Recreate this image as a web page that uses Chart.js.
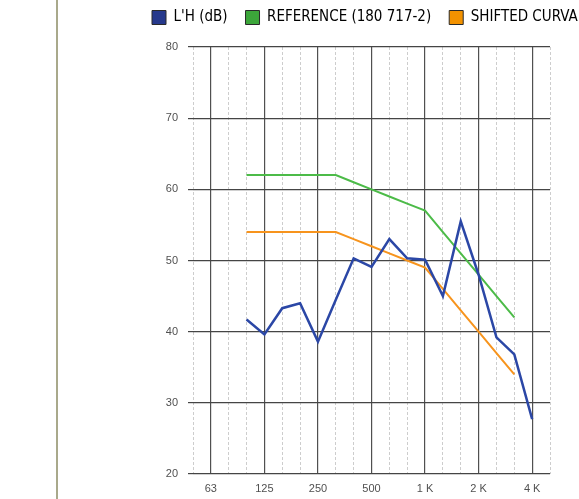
<!DOCTYPE html>
<html>
<head>
<meta charset="utf-8">
<script src="https://cdn.jsdelivr.net/npm/chart.js@4.4.1/dist/chart.umd.min.js"></script>
<style>
  body { margin: 0; background: #fff; }
  #wrap { position: relative; width: 579px; height: 499px; }
  #chart { position: absolute; left: 0; top: 0; }
  #rule { position: absolute; left: 56px; top: 0; width: 2px; height: 499px; background: #a9a98b; }
</style>
</head>
<body>
<div id="wrap">
  <canvas id="chart" width="579" height="499"></canvas>
  <div id="rule"></div>
</div>
<script>
"use strict";

// third-octave bands, 50 Hz .. 5 kHz (x axis runs on the band index)
const bands = ['50', '63', '80', '100', '125', '160', '200', '250', '315', '400', '500',
  '630', '800', '1000', '1250', '1600', '2000', '2500', '3150', '4000', '5000'];
const octaveBands = ['63', '125', '250', '500', '1000', '2000', '4000'];
const octaveLabels = ['63', '125', '250', '500', '1 K', '2 K', '4 K'];

const measuredBands = ['100', '125', '160', '200', '250', '315', '400', '500', '630',
  '800', '1000', '1250', '1600', '2000', '2500', '3150', '4000'];
const lH = [41.7, 39.6, 43.3, 44.0, 38.6, 44.5, 50.3, 49.1, 53.0,
  50.3, 50.1, 45.0, 55.5, 48.0, 39.2, 36.8, 27.7];

const refBands = ['100', '125', '160', '200', '250', '315', '400', '500', '630',
  '800', '1000', '1250', '1600', '2000', '2500', '3150'];
const reference = [62, 62, 62, 62, 62, 62, 61, 60, 59, 58, 57, 54, 51, 48, 45, 42];
const shifted = [54, 54, 54, 54, 54, 54, 53, 52, 51, 50, 49, 46, 43, 40, 37, 34];

const yTicks = [20, 30, 40, 50, 60, 70, 80];

function toPoints(b, vals) {
  return b.map((f, i) => ({ x: bands.indexOf(f), y: vals[i] }));
}

const octaveIdx = octaveBands.map(f => bands.indexOf(f));
const minorIdx = bands.map((f, i) => i).filter(i => !octaveIdx.includes(i));

const LEGEND_GAP = 18;

// legend: one row, fixed height, placed like the original
const legendPlace = {
  id: 'legendPlace',
  afterInit(chart) {
    const lg = chart.legend;
    const origFit = lg.fit;
    lg.fit = function () {
      this.maxWidth = 2000;
      origFit.call(this);
      this.height = 47;
    };
  },
  afterLayout(chart) {
    const lg = chart.legend;
    lg.left = 152 - LEGEND_GAP;
    lg.right = 2000;
    lg.top = 10 - LEGEND_GAP;
  }
};

const tickFont = { family: "'Liberation Sans', Arial, sans-serif", size: 11 };

const config = {
  type: 'line',
  data: {
    datasets: [
      {
        label: "L'H (dB)",
        data: toPoints(measuredBands, lH),
        borderColor: '#2b47a6',
        backgroundColor: '#26398c',
        borderWidth: 2.5,
      },
      {
        label: 'REFERENCE (180 717-2)',
        data: toPoints(refBands, reference),
        borderColor: '#4cbb48',
        backgroundColor: '#3ca63a',
        borderWidth: 2,
      },
      {
        label: 'SHIFTED CURVA',
        data: toPoints(refBands, shifted),
        borderColor: '#f7941d',
        backgroundColor: '#f39200',
        borderWidth: 2,
      },
    ],
  },
  options: {
    responsive: false,
    animation: false,
    layout: { padding: 0 },
    elements: { point: { radius: 0 }, line: { tension: 0 } },
    plugins: {
      tooltip: { enabled: false },
      legend: {
        position: 'top',
        align: 'start',
        labels: {
          boxWidth: 14,
          boxHeight: 14,
          padding: LEGEND_GAP,
          color: '#151515',
          font: { family: "'Liberation Sans Narrow', 'DejaVu Sans Condensed', 'Roboto Condensed', sans-serif", size: 15 },
          generateLabels: chart => chart.data.datasets.map((ds, i) => ({
            text: ds.label,
            fillStyle: ds.backgroundColor,
            strokeStyle: '#2a2a2a',
            lineWidth: 1,
            hidden: false,
            datasetIndex: i,
          })),
        },
      },
    },
    scales: {
      x: {
        type: 'linear',
        position: 'bottom',
        min: 0,
        max: 20,
        afterBuildTicks: s => { s.ticks = octaveIdx.map(v => ({ value: v })); },
        afterFit: s => { s.height = 25; },
        grid: { color: '#505050', lineWidth: 1.2, drawTicks: false },
        border: { display: false },
        ticks: {
          padding: 8,
          color: '#505050',
          font: tickFont,
          maxRotation: 0,
          autoSkip: false,
          callback: v => octaveLabels[octaveIdx.indexOf(v)],
        },
      },
      xMinor: {
        type: 'linear',
        position: 'bottom',
        min: 0,
        max: 20,
        afterBuildTicks: s => { s.ticks = minorIdx.map(v => ({ value: v })); },
        afterFit: s => { s.height = 0; },
        grid: { color: '#cdcdcd', lineWidth: 1, drawTicks: false },
        border: { display: false, dash: [3, 2] },
        ticks: { display: false },
      },
      y: {
        min: 20,
        max: 80,
        afterBuildTicks: s => { s.ticks = yTicks.map(v => ({ value: v })); },
        afterFit: s => { s.width = 193; },
        grid: { color: '#454545', lineWidth: 1.2, tickLength: 5 },
        border: { display: false },
        ticks: { padding: 10, color: '#505050', font: tickFont },
      },
      yRight: {
        position: 'right',
        min: 20,
        max: 80,
        afterFit: s => { s.width = 29; },
        grid: { display: false },
        border: { display: false },
        ticks: { display: false },
      },
    },
  },
  plugins: [legendPlace],
};

new Chart(document.getElementById('chart'), config);
</script>
</body>
</html>
